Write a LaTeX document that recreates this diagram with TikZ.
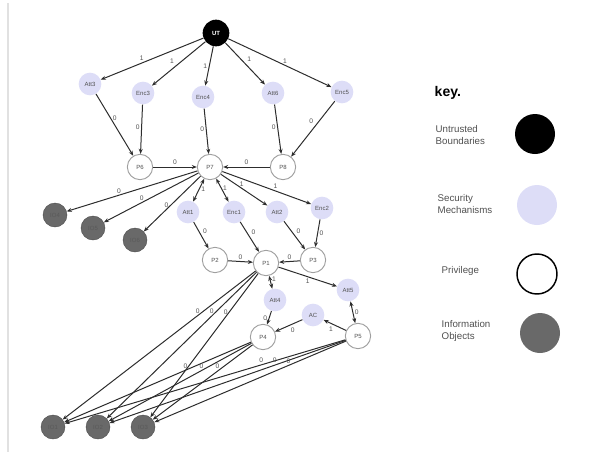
\documentclass[tikz,border=0pt]{standalone}
\usepackage{fontspec}
\setmainfont{Liberation Sans}
\usetikzlibrary{arrows.meta}
\definecolor{lavender}{RGB}{221,221,247}
\definecolor{iogray}{RGB}{105,105,105}
\definecolor{edgegray}{RGB}{45,45,45}
\definecolor{txtgray}{RGB}{80,80,80}
\definecolor{rulegray}{RGB}{225,225,225}
\tikzset{
  trust/.style={circle,fill=black,text=white,minimum size=20pt,inner sep=0pt,font=\fontsize{4.5}{4.5}\selectfont\bfseries},
  mech/.style={circle,fill=lavender,text=txtgray,minimum size=17pt,inner sep=0pt,font=\fontsize{4.5}{4.5}\selectfont},
  priv/.style={circle,draw=gray!75,fill=white,line width=0.7pt,text=txtgray,minimum size=19pt,inner sep=0pt,font=\fontsize{4.5}{4.5}\selectfont},
  info/.style={circle,fill=iogray,draw=gray!60!black,line width=0.3pt,text=black!65,minimum size=18pt,inner sep=0pt,font=\fontsize{4.5}{4.5}\selectfont},
  arr/.style={-{Stealth[length=3.8pt,width=3pt]},draw=edgegray,line width=0.75pt},
  darr/.style={arr,{Stealth[length=3.8pt,width=3pt]}-{Stealth[length=3.8pt,width=3pt]}},
  lbl/.style={font=\fontsize{5}{5}\selectfont,text=txtgray,inner sep=1.2pt},
  keytxt/.style={font=\fontsize{7.3}{9}\selectfont,text=txtgray,align=left,anchor=west},
  keydot/.style={circle,minimum size=30pt,inner sep=0pt}
}
\begin{document}
\begin{tikzpicture}[x=0.75pt,y=-0.75pt]
  \useasboundingbox (0,0) rectangle (596,457);
  \draw[rulegray,line width=0.8pt] (8,3) -- (8,452);

  % boundary
  \node[trust] (ut) at (216,33) {UT};

  % first ring of mechanisms
  \node[mech] (att3) at (90,84) {Att3};
  \node[mech] (enc3) at (143,93) {Enc3};
  \node[mech] (enc4) at (203,97) {Enc4};
  \node[mech] (att6) at (273,93) {Att6};
  \node[mech] (enc5) at (342,92) {Enc5};

  % privileges
  \node[priv] (p6) at (140,167) {P6};
  \node[priv] (p7) at (210,167) {P7};
  \node[priv] (p8) at (283,167) {P8};

  \node[info] (io4) at (55,215) {IO4};
  \node[info] (io5) at (93,228) {IO5};
  \node[info] (io6) at (135,240) {IO6};

  \node[mech] (att1) at (188,212) {Att1};
  \node[mech] (enc1) at (234,212) {Enc1};
  \node[mech] (att2) at (277,212) {Att2};
  \node[mech] (enc2) at (322,208) {Enc2};

  \node[priv] (p2) at (215,260) {P2};
  \node[priv] (p1) at (266,263) {P1};
  \node[priv] (p3) at (313,260) {P3};

  \node[mech] (att4) at (275,300) {Att4};
  \node[mech] (att5) at (348,290) {Att5};
  \node[mech] (ac) at (313,315) {AC};

  \node[priv] (p4) at (263,337) {P4};
  \node[priv] (p5) at (358,336) {P5};

  \node[info] (io1) at (53,427) {IO1};
  \node[info] (io2) at (98,427) {IO2};
  \node[info] (io3) at (143,427) {IO3};

  % edges
  \draw[arr] (ut) -- node[lbl,pos=0.6,above] {1} (att3);
  \draw[arr] (ut) -- node[lbl,pos=0.55,above left] {1} (enc3);
  \draw[arr] (ut) -- node[lbl,pos=0.5,left] {1} (enc4);
  \draw[arr] (ut) -- node[lbl,pos=0.5,above right] {1} (att6);
  \draw[arr] (ut) -- node[lbl,pos=0.55,above] {1} (enc5);

  \draw[arr] (att3) -- node[lbl,pos=0.4,right] {0} (p6);
  \draw[arr] (enc3) -- node[lbl,pos=0.45,left] {0} (p6);
  \draw[arr] (enc4) -- node[lbl,pos=0.45,left] {0} (p7);
  \draw[arr] (att6) -- node[lbl,pos=0.45,left] {0} (p8);
  \draw[arr] (enc5) -- node[lbl,pos=0.45,above left] {0} (p8);

  \draw[arr] (p6) -- node[lbl,above] {0} (p7);
  \draw[arr] (p8) -- node[lbl,above] {0} (p7);

  \draw[arr] (p7) -- node[lbl,pos=0.6,above] {0} (io4);
  \draw[arr] (p7) -- node[lbl,pos=0.6,above] {0} (io5);
  \draw[arr] (p7) -- node[lbl,pos=0.6,above] {0} (io6);

  \draw[darr] (p7) -- node[lbl,pos=0.45,right] {1} (att1);
  \draw[darr] (p7) -- node[lbl,pos=0.4,right] {1} (enc1);
  \draw[arr] (p7) -- node[lbl,pos=0.45,above] {1} (att2);
  \draw[arr] (p7) -- node[lbl,pos=0.6,above] {1} (enc2);

  \draw[arr] (att1) -- node[lbl,pos=0.5,above right] {0} (p2);
  \draw[arr] (enc1) -- node[lbl,pos=0.5,above right] {0} (p1);
  \draw[arr] (att2) -- node[lbl,pos=0.5,above right] {0} (p3);
  \draw[arr] (enc2) -- node[lbl,pos=0.5,right] {0} (p3);

  \draw[arr] (p2) -- node[lbl,above] {0} (p1);
  \draw[arr] (p3) -- node[lbl,above] {0} (p1);

  \draw[darr] (p1) -- node[lbl,pos=0.3,right] {1} (att4);
  \draw[arr] (p1) -- node[lbl,pos=0.5,below] {1} (att5);
  \draw[arr] (att4) -- node[lbl,pos=0.5,left] {0} (p4);
  \draw[darr] (att5) -- node[lbl,pos=0.5,right] {0} (p5);
  \draw[arr] (ac) -- node[lbl,pos=0.5,below right] {0} (p4);
  \draw[arr] (p5) -- node[lbl,pos=0.5,below left] {1} (ac);

  % privileges down to the information objects
  \foreach \src/\t in {p1/0.3,p4/0.35,p5/0.3} {
    \foreach \dst in {io1,io2,io3} {
      \draw[arr] (\src) -- node[lbl,pos=\t,above] {0} (\dst);
    }
  }

  % key
  \node[font=\fontsize{10.5}{11}\selectfont\bfseries,anchor=west] (keyhd) at (430,93) {key.};
  \node[keytxt] (k1) at (431,135) {Untrusted\\Boundaries};
  \node[keydot,fill=black] (d1) at (535,134) {};
  \node[keytxt] (k2) at (433,204) {Security\\Mechanisms};
  \node[keydot,fill=lavender] (d2) at (537,205) {};
  \node[keytxt] (k3) at (437,271) {Privilege};
  \node[keydot,draw=black,line width=1.1pt,fill=white] (d3) at (537,274) {};
  \node[keytxt] (k4) at (437,331) {Information\\Objects};
  \node[keydot,fill=iogray] (d4) at (540,333) {};
\end{tikzpicture}
\end{document}
